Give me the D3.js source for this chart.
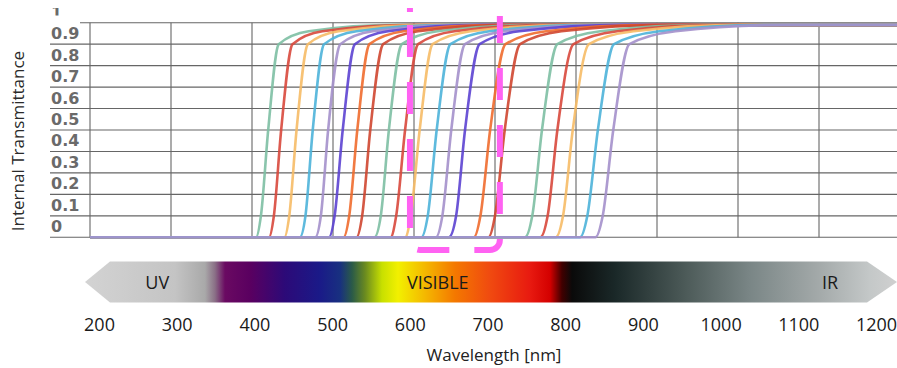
<!DOCTYPE html>
<html lang="en">
<head>
    <meta charset="UTF-8">
    <title>internal transmittance</title>
    <script src="https://d3js.org/d3.v7.min.js"></script>
    <style>
        body { margin: 0; background: #fff; }
        svg { display: block; }
    </style>
</head>
<body>
    <svg></svg>
    <script>
        const w = 897;
        const h = 368;

        // axis ticks
        const xTicks = [200, 300, 400, 500, 600, 700, 800, 900, 1000, 1100, 1200];
        const yTicks = [0, 0.1, 0.2, 0.3, 0.4, 0.5, 0.6, 0.7, 0.8, 0.9, 1];

        // transmittance levels and, per filter, the wavelength (nm) where each level is reached
        const levels = [0, 0.1, 0.5, 0.9, 0.96, 0.99];
        const edges = [
            [405, 411, 420, 433, 470, 580],
            [421, 427, 436, 450, 487, 600],
            [440, 446, 455, 469, 507, 620],
            [459, 466, 475, 489, 529, 645],
            [478, 485, 494, 509, 549, 665],
            [495, 502, 512, 527, 568, 685],
            [513, 520, 530, 545, 587, 705],
            [529, 536, 546, 562, 605, 725],
            [551, 559, 569, 585, 629, 750],
            [571, 578, 589, 605, 650, 775],
            [589, 596, 607, 623, 670, 795],
            [609, 617, 628, 645, 693, 820],
            [627, 635, 646, 663, 712, 840],
            [643, 652, 663, 681, 730, 860],
            [674, 682, 694, 713, 763, 895],
            [692, 700, 712, 731, 782, 915],
            [737, 746, 758, 777, 830, 965],
            [756, 765, 777, 797, 851, 985],
            [775, 784, 796, 816, 871, 1005],
            [805, 814, 827, 847, 903, 1040],
            [824, 833, 846, 866, 923, 1060]
        ];

        // spectrum band labels, centred on these wavelengths
        const bandLabels = ['UV', 'VISIBLE', 'IR'];
        const bandCenters = [275, 636, 1141];

        const lineColors = ['#7dbfa3', '#d8483c', '#f6bb66', '#4cb2d9', '#a490cb', '#5c42d2', '#f06b2e', '#cf4630'];

        const svg = d3.select('svg')
            .attr('width', w)
            .attr('height', h);

        const x = d3.scaleLinear().domain([200, 1200]).range([90, 900]);
        const y = d3.scaleLinear().domain([0, 1]).range([237.3, 22.7]);
        const bandX = d3.scaleLinear().domain([200, 1200]).range([99, 876]);

        const defs = svg.append('defs');

        // grid
        const grid = svg.append('g')
            .attr('stroke', '#666')
            .attr('stroke-width', 1.1);

        grid.selectAll('line.h')
            .data(yTicks)
            .enter()
            .append('line')
            .attr('x1', d => d === 1 ? 80 : 50)
            .attr('x2', w)
            .attr('y1', d => y(d))
            .attr('y2', d => y(d));

        grid.selectAll('line.v')
            .data(xTicks)
            .enter()
            .append('line')
            .attr('x1', d => x(d))
            .attr('x2', d => x(d))
            .attr('y1', y(1))
            .attr('y2', y(0));

        // y labels sit in the band above each grid line; the top "1" is cropped in the source
        defs.append('clipPath')
            .attr('id', 'topcut')
            .append('rect')
            .attr('x', 0).attr('y', 8).attr('width', 90).attr('height', 7.5);

        svg.append('g')
            .selectAll('text')
            .data(yTicks)
            .enter()
            .append('text')
            .attr('clip-path', d => d === 1 ? 'url(#topcut)' : null)
            .attr('x', 51)
            .attr('y', d => y(d + 0.05))
            .attr('dy', '0.36em')
            .attr('font-family', 'DejaVu Sans')
            .attr('font-weight', 'bold')
            .attr('font-size', 16)
            .attr('fill', '#6a6a6a')
            .text(d => d === 0 ? '0' : d === 1 ? '1' : d.toFixed(1));

        svg.append('text')
            .attr('transform', 'translate(24, 141) rotate(-90)')
            .attr('text-anchor', 'middle')
            .attr('font-family', 'Open Sans')
            .attr('font-size', 17)
            .attr('fill', '#2a2a2a')
            .text('Internal Transmittance');

        // filter curves
        const line = d3.line()
            .x(d => x(d[0]))
            .y(d => y(d[1]))
            .curve(d3.curveMonotoneX);

        const curves = edges.map(row => {
            const pts = [[200, 0]];
            row.forEach((nm, i) => pts.push([nm, levels[i]]));
            pts.push([1200, levels[levels.length - 1]]);
            return pts;
        });

        svg.append('g')
            .selectAll('path')
            .data(curves)
            .enter()
            .append('path')
            .attr('d', line)
            .attr('fill', 'none')
            .attr('stroke', (d, i) => lineColors[i % lineColors.length])
            .attr('stroke-width', 2.6)
            .attr('stroke-opacity', 0.9)
            .attr('stroke-linejoin', 'round');

        // highlight bracket
        const bx0 = x(595), bx1 = x(706), by = 250, r = 10;
        const pink = svg.append('g')
            .attr('fill', 'none')
            .attr('stroke', '#ff62f2')
            .attr('stroke-width', 6);
        pink.append('path')
            .attr('d', `M${bx0},25 V${by - r} A${r},${r} 0 0 0 ${bx0 + r},${by} H${bx1 - r} A${r},${r} 0 0 0 ${bx1},${by - r} V16`)
            .attr('stroke-dasharray', '32 25');
        pink.append('path')
            .attr('d', `M${bx0},8 V12`);

        // spectrum band
        const stops = [
            [85, '#d3d3d3'], [175, '#c4c4c4'], [205, '#a9a9a9'], [215, '#8a6f86'], [225, '#6a0a62'],
            [250, '#5a0060'], [285, '#2c0a78'], [320, '#1a1a88'], [340, '#183080'], [352, '#2a5a48'],
            [365, '#6a8a20'], [382, '#c8e000'], [398, '#f2f000'], [425, '#f4b800'], [455, '#f47800'],
            [490, '#f04a10'], [530, '#e81a10'], [550, '#d40000'], [562, '#400000'], [572, '#0a0a0a'],
            [615, '#1a2828'], [685, '#4c5a58'], [750, '#7a8686'], [820, '#a4aaaa'], [870, '#c4c8c8'],
            [897, '#d0d0d0']
        ];
        const grad = defs.append('linearGradient')
            .attr('id', 'spectrum')
            .attr('gradientUnits', 'userSpaceOnUse')
            .attr('x1', 85).attr('x2', 897).attr('y1', 0).attr('y2', 0);
        grad.selectAll('stop')
            .data(stops)
            .enter()
            .append('stop')
            .attr('offset', d => (d[0] - 85) / 812)
            .attr('stop-color', d => d[1]);

        svg.append('polygon')
            .attr('points', '85,282 110,261.5 867,261.5 897,282 867,302.5 110,302.5')
            .attr('fill', 'url(#spectrum)');

        svg.append('g')
            .selectAll('text')
            .data(bandLabels)
            .enter()
            .append('text')
            .attr('x', (d, i) => bandX(bandCenters[i]))
            .attr('y', 289)
            .attr('text-anchor', 'middle')
            .attr('font-family', 'Open Sans')
            .attr('font-size', 18)
            .attr('fill', '#1a1a1a')
            .text(d => d);

        // wavelength axis
        const xAxis = svg.append('g')
            .attr('transform', 'translate(0, 318)')
            .call(d3.axisBottom(bandX).tickValues(xTicks).tickFormat(d3.format('d')).tickSize(0).tickPadding(0));
        xAxis.select('.domain').remove();
        xAxis.selectAll('text')
            .attr('font-family', 'Open Sans')
            .attr('font-size', 18)
            .attr('fill', '#1a1a1a')
            .attr('dy', '0.72em');

        svg.append('text')
            .attr('x', 494)
            .attr('y', 361)
            .attr('text-anchor', 'middle')
            .attr('font-family', 'Open Sans')
            .attr('font-size', 17)
            .attr('fill', '#222')
            .text('Wavelength [nm]');
    </script>
</body>
</html>
